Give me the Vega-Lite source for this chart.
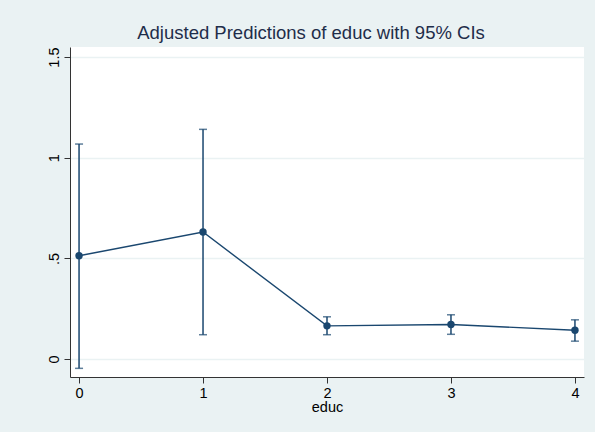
{
  "$schema": "https://vega.github.io/schema/vega-lite/v6.json",
  "width": 514,
  "height": 330,
  "autosize": {"type": "none"},
  "padding": {"left": 70, "top": 47, "right": 11, "bottom": 55},
  "background": "#EAF2F3",
  "config": {
    "view": {"fill": "#FFFFFF", "stroke": null},
    "font": "Liberation Sans",
    "axis": {
      "labelFont": "Liberation Sans",
      "titleFont": "Liberation Sans",
      "labelColor": "#000000",
      "titleColor": "#000000",
      "domainColor": "#333333",
      "tickColor": "#333333",
      "domainWidth": 1,
      "tickWidth": 1,
      "tickSize": 6,
      "labelFontSize": 14.5,
      "titleFontSize": 14.5,
      "titleFontWeight": "normal"
    }
  },
  "title": {
    "text": "Adjusted Predictions of educ with 95% CIs",
    "anchor": "middle",
    "frame": "group",
    "offset": 4,
    "dx": -16,
    "fontSize": 18.5,
    "fontWeight": "normal",
    "font": "Liberation Sans",
    "color": "#1E2D4A"
  },
  "data": {
    "values": [
      {"educ": 0, "margin": 0.513, "lo": -0.046, "hi": 1.068},
      {"educ": 1, "margin": 0.631, "lo": 0.121, "hi": 1.141},
      {"educ": 2, "margin": 0.165, "lo": 0.121, "hi": 0.21},
      {"educ": 3, "margin": 0.172, "lo": 0.123, "hi": 0.22},
      {"educ": 4, "margin": 0.143, "lo": 0.089, "hi": 0.195}
    ]
  },
  "encoding": {
    "x": {
      "field": "educ",
      "type": "quantitative",
      "scale": {"domain": [-0.073, 4.073], "nice": false, "zero": false},
      "axis": {
        "values": [0, 1, 2, 3, 4],
        "grid": false,
        "title": "educ",
        "labelPadding": 3,
        "titlePadding": 1
      }
    }
  },
  "layer": [
    {
      "mark": {"type": "rule", "color": "#1A476F", "strokeWidth": 1.5},
      "encoding": {
        "y": {
          "field": "lo",
          "type": "quantitative",
          "scale": {"domain": [-0.089, 1.55], "nice": false, "zero": false},
          "axis": {
            "values": [0, 0.5, 1, 1.5],
            "format": "~g",
            "title": null,
            "grid": true,
            "gridColor": "#EAF2F3",
            "gridWidth": 1.5,
            "labelAngle": 270,
            "labelAlign": "center",
            "labelBaseline": "bottom",
            "labelPadding": 3,
            "labelExpr": "datum.value == 0.5 ? '.5' : datum.label"
          }
        },
        "y2": {"field": "hi"}
      }
    },
    {
      "mark": {"type": "tick", "orient": "horizontal", "color": "#1A476F", "size": 8, "thickness": 1.5},
      "encoding": {"y": {"field": "lo", "type": "quantitative"}}
    },
    {
      "mark": {"type": "tick", "orient": "horizontal", "color": "#1A476F", "size": 8, "thickness": 1.5},
      "encoding": {"y": {"field": "hi", "type": "quantitative"}}
    },
    {
      "mark": {"type": "line", "color": "#1A476F", "strokeWidth": 1.4},
      "encoding": {"y": {"field": "margin", "type": "quantitative"}}
    },
    {
      "mark": {"type": "point", "filled": true, "opacity": 1, "color": "#1A476F", "size": 55},
      "encoding": {"y": {"field": "margin", "type": "quantitative"}}
    }
  ]
}
